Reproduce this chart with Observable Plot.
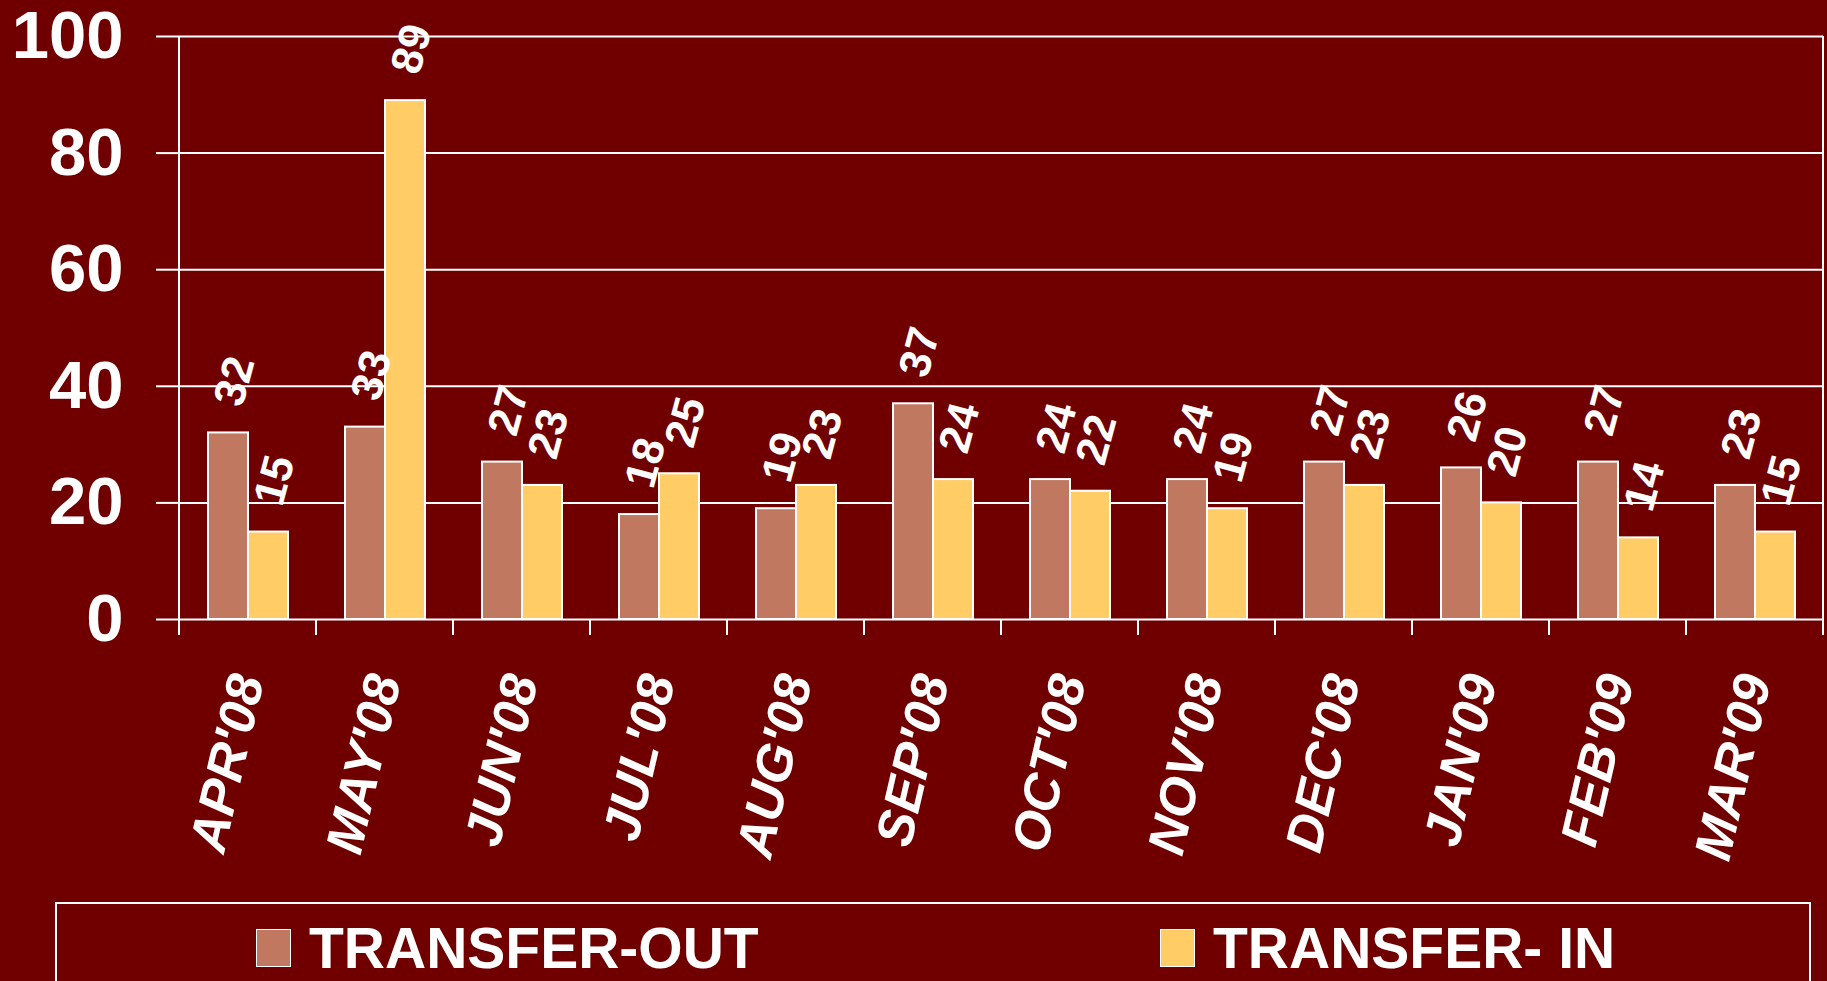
<!DOCTYPE html>
<html><head><meta charset="utf-8">
<script src="https://cdn.jsdelivr.net/npm/d3@7"></script>
<script src="https://cdn.jsdelivr.net/npm/@observablehq/plot@0.6"></script>
<style>
html,body{margin:0;padding:0;background:#700000;overflow:hidden;}
#chart svg{display:block}
.legend{position:relative;margin-left:55px;margin-top:7px;width:1756px;height:120px;border:2px solid #fff;border-bottom:none;box-sizing:border-box;font-family:"Liberation Sans",Arial,sans-serif;font-weight:bold;font-size:57px;color:#fff;line-height:1}
.item{position:absolute;top:14px;display:flex;align-items:center;height:60px}
.sw{width:35px;height:38px;border:1.5px solid #fff;box-sizing:border-box;margin-right:18px}
</style></head><body>
<div id="chart"></div>
<div class="legend" id="legend"></div>
<script>
const months = ["APR'08","MAY'08","JUN'08","JUL'08","AUG'08","SEP'08","OCT'08","NOV'08","DEC'08","JAN'09","FEB'09","MAR'09"];
const transferOut = [32,33,27,18,19,37,24,24,27,26,27,23];
const transferIn = [15,89,23,25,23,24,22,19,23,20,14,15];
const seriesNames = ["TRANSFER-OUT","TRANSFER- IN"];
const seriesColors = ["#C07860","#FFCC66"];
const yTicks = [0,20,40,60,80,100];

const data = months.flatMap((m,i)=>[
  {month:m, series:seriesNames[0], value:transferOut[i]},
  {month:m, series:seriesNames[1], value:transferIn[i]}
]);

const chart = Plot.plot({
  width: 1827, height: 895,
  marginTop: 36, marginBottom: 276, marginLeft: 178, marginRight: 4,
  style: {background:"transparent", color:"#fff", overflow:"visible"},
  fx: {domain: months, padding: 0, label: null},
  x: {domain: seriesNames, paddingOuter: 0.71, paddingInner: 0, axis: null},
  y: {domain:[0,100], label:null},
  color: {domain: seriesNames, range: seriesColors},
  marks: [
    Plot.ruleY(yTicks, {stroke:"#fff", strokeWidth:2}),
    Plot.axisY({ticks: yTicks, tickSize:23, tickPadding:33, stroke:"#fff", strokeWidth:2, strokeOpacity:1, fontSize:67, fontFamily:"Liberation Sans", fontWeight:"bold", fill:"#fff", label:null}),
    Plot.axisFx({anchor:"bottom", tickSize:0, tickPadding:56, tickRotate:-77, fontSize:52, fontFamily:"Liberation Sans", fontWeight:"bold", fontStyle:"italic", fill:"#fff", label:null}),
    Plot.barY(data, {fx:"month", x:"series", y:"value", fill:"series", stroke:"#fff", strokeWidth:2}),
    Plot.text(data, {fx:"month", x:"series", y:"value", text: d=>String(d.value), rotate:-75, textAnchor:"start", dy:-28, dx:0, fill:"#fff", fontSize:44, fontWeight:"bold", fontFamily:"Liberation Sans"})
  ]
});
document.getElementById("chart").appendChild(chart);

// plot-area border and band-boundary ticks, from the library's scales
const fx = chart.scale("fx"), y = chart.scale("y");
const y0 = y.apply(0), yTop = y.apply(100);
const edges = months.map(m => fx.apply(m)).concat([fx.apply(months[months.length-1]) + fx.bandwidth]);
d3.select(chart).append("g").attr("stroke","#fff").attr("stroke-width",2)
  .selectAll("line").data(edges).join("line")
  .attr("x1",d=>d).attr("x2",d=>d)
  .attr("y1",(d,i)=> (i===0||i===edges.length-1) ? yTop : y0)
  .attr("y2", y0+16);

// legend
const lg = d3.select("#legend");
const lefts = [199, 1103];
seriesNames.forEach((s,i)=>{
  const it = lg.append("div").attr("class","item").style("left", lefts[i]+"px");
  it.append("div").attr("class","sw").style("background", seriesColors[i]);
  it.append("span").text(s);
});
</script>
</body></html>
